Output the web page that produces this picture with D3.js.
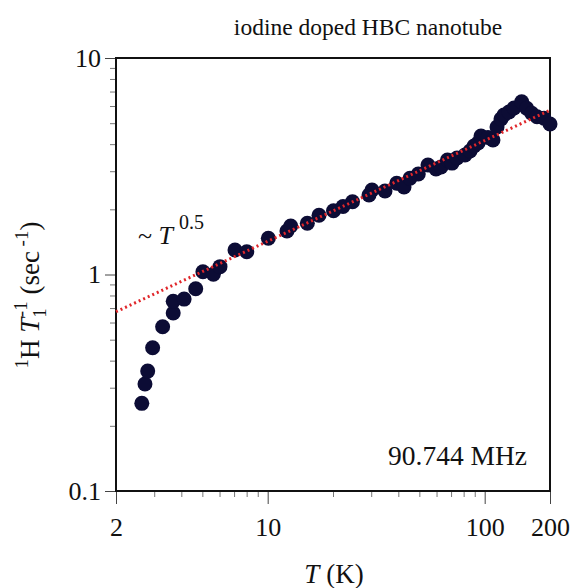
<!DOCTYPE html>
<html><head><meta charset="utf-8">
<script src="https://cdn.jsdelivr.net/npm/d3@7"></script>
<style>
html,body{margin:0;padding:0;background:#fff;}
text{font-family:"Liberation Serif","Times New Roman",serif;fill:#111;}
</style></head>
<body>
<svg id="chart" width="576" height="588"></svg>
<script>
// ---- data ----
const temps = [2.63,2.72,2.80,2.95,3.28,3.67,3.67,4.12,4.66,5.03,5.62,6.03,7.07,8.01,10.07,12.27,12.77,15.23,17.24,20.11,22.24,24.6,29.31,30.25,34.73,39.32,42.5,45.28,49.44,54.8,59.68,62.9,67.4,70.7,74.55,81.17,85.6,89.3,93.2,96.2,103.6,109.2,114,118.9,122.7,129.4,136.5,148.1,156.2,164.7,174.2,187.7,200];
const rates = [0.254,0.312,0.358,0.459,0.574,0.664,0.752,0.770,0.860,1.030,1.002,1.087,1.298,1.274,1.47,1.588,1.675,1.724,1.877,1.971,2.061,2.169,2.329,2.456,2.43,2.638,2.536,2.782,2.912,3.205,3.072,3.138,3.38,3.27,3.452,3.565,3.72,3.923,4.05,4.363,4.294,4.18,4.80,5.226,5.454,5.63,5.875,6.28,5.858,5.555,5.357,5.267,4.957];
const fitT = [2, 200];
const fitRate = [0.673, 5.74];
const xMajorTicks = [2, 10, 100, 200];
const xMinorTicks = [3,4,5,6,7,8,9,20,30,40,50,60,70,80,90];
const yMajorTicks = [0.1, 1, 10];
const yMinorTicks = [0.2,0.3,0.4,0.5,0.6,0.7,0.8,0.9,2,3,4,5,6,7,8,9];

const svg = d3.select("#chart");
const L = 116, R = 550, T = 58, B = 491;
const x = d3.scaleLog().domain([2, 200]).range([L, R]);
const y = d3.scaleLog().domain([0.1, 10]).range([B, T]);

// axes
const fmt = d => (d === 0.1 ? "0.1" : String(d));
const gx = svg.append("g").attr("transform", `translate(0,${B})`);
gx.call(d3.axisBottom(x).tickValues(xMinorTicks).tickSize(6).tickFormat(""));
gx.selectAll(".tick line").attr("stroke", "#777");
const gx2 = svg.append("g").attr("transform", `translate(0,${B})`);
gx2.call(d3.axisBottom(x).tickValues(xMajorTicks).tickSize(13).tickPadding(14).tickFormat(fmt));
gx2.selectAll(".tick line").attr("stroke", "#444");
gx2.selectAll(".tick text").attr("font-size", 26).attr("font-family", "Liberation Serif").attr("fill", "#111");
svg.selectAll(".domain").remove();

const gy = svg.append("g").attr("transform", `translate(${L},0)`);
gy.call(d3.axisLeft(y).tickValues(yMinorTicks).tickSize(6).tickFormat(""));
gy.selectAll(".tick line").attr("stroke", "#777");
const gy2 = svg.append("g").attr("transform", `translate(${L},0)`);
gy2.call(d3.axisLeft(y).tickValues(yMajorTicks).tickSize(11).tickPadding(4).tickFormat(fmt));
gy2.selectAll(".tick line").attr("stroke", "#444");
gy2.selectAll(".tick text").attr("font-size", 26).attr("font-family", "Liberation Serif").attr("fill", "#111");
svg.selectAll(".domain").remove();

// frame
svg.append("rect").attr("x", L).attr("y", T).attr("width", R - L).attr("height", B - T)
  .attr("fill", "none").attr("stroke", "#111").attr("stroke-width", 2);

// points
svg.append("g").selectAll("circle").data(temps.map((t, i) => [t, rates[i]])).join("circle")
  .attr("cx", d => x(d[0])).attr("cy", d => y(d[1])).attr("r", 7.5)
  .attr("fill", "#0c0c35");

// fit line
svg.append("path")
  .attr("d", d3.line().x(d => x(d[0])).y(d => y(d[1]))(fitT.map((t, i) => [t, fitRate[i]])))
  .attr("fill", "none").attr("stroke", "#e0262a").attr("stroke-width", 3)
  .attr("stroke-dasharray", "2,3");

// title
svg.append("text").attr("x", 368).attr("y", 35).attr("text-anchor", "middle")
  .attr("font-size", 23.5).text("iodine doped HBC nanotube");

// x label
const xl = svg.append("text").attr("x", 334).attr("y", 583).attr("text-anchor", "middle").attr("font-size", 27);
xl.append("tspan").attr("font-style", "italic").text("T");
xl.append("tspan").text(" (K)");

// y label
const yl = svg.append("text").attr("transform", "translate(39,295) rotate(-90)")
  .attr("text-anchor", "middle").attr("font-size", 27);
yl.append("tspan").attr("font-size", 19).attr("dy", -11).text("1");
yl.append("tspan").attr("dy", 11).text("H ");
yl.append("tspan").attr("font-style", "italic").text("T");
yl.append("tspan").attr("font-size", 19).attr("dy", 7).text("1");
yl.append("tspan").attr("font-size", 19).attr("dx", -9).attr("dy", -19).text("-1");
yl.append("tspan").attr("dy", 12).text(" (sec");
yl.append("tspan").attr("font-size", 19).attr("dy", -11).text(" -1");
yl.append("tspan").attr("dy", 11).text(")");

// annotations
const an = svg.append("text").attr("x", 138).attr("y", 244).attr("font-size", 26);
an.append("tspan").text("~ ");
an.append("tspan").attr("font-style", "italic").text("T");
an.append("tspan").attr("font-size", 20).attr("dx", 6).attr("dy", -15).text("0.5");

svg.append("text").attr("x", 388).attr("y", 465).attr("font-size", 27.5).text("90.744 MHz");
</script>
</body></html>
